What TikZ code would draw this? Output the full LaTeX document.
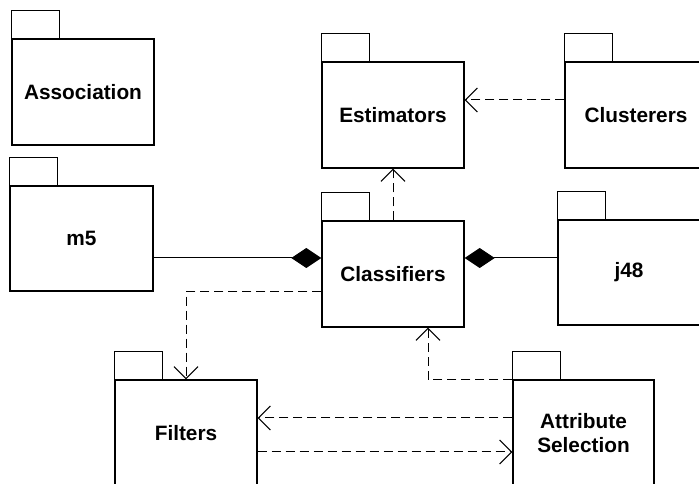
\documentclass[tikz,border=0pt]{standalone}
\usepackage{fontspec}
\setmainfont{Liberation Sans}
\usetikzlibrary{arrows.meta}
\tikzset{
  x=1pt,y=1pt,
  body/.style={draw,line width=1.4pt,minimum width=142pt,minimum height=106pt,inner sep=0pt,
    font=\fontsize{20.8}{24}\selectfont\bfseries,align=center},
  tab/.style={draw,line width=1.4pt},
  dep/.style={line width=1pt,dash pattern=on 9pt off 5pt,-{Straight Barb[length=12pt,width=24pt,line width=1pt]}},
  comp/.style={line width=1pt,-{Diamond[length=30pt,width=20pt]}}
}
\begin{document}
\begin{tikzpicture}
\useasboundingbox (0,0) rectangle (699,484);
\node[body] (asc) at (83,392) {Association};
\node[body,minimum width=143pt,minimum height=105pt] (m5) at (81.5,245.5) {m5};
\node[body] (est) at (393,369) {Estimators};
\node[body] (clu) at (636,369) {Clusterers};
\node[body] (cls) at (393,210) {Classifiers};
\node[body,minimum height=105pt] (j48) at (629,211.5) {j48};
\node[body] (flt) at (186,51) {Filters};
\node[body,minimum width=141pt] (ats) at (583.5,51) {Attribute\\Selection};
\foreach \n in {asc,m5,est,clu,cls,j48,flt,ats}
  \draw[tab] (\n.north west) rectangle ++(48,28);
% connectors
\coordinate (cluout) at ([yshift=15pt]clu.west);
\draw[dep] (cluout) -- (cluout -| est.east);
\draw[dep] (cls.north) -- (est.south);
\coordinate (cm5) at ([yshift=16pt]cls.west);
\draw[comp] (cm5 -| m5.east) -- (cm5);
\coordinate (cj48) at ([yshift=16pt]cls.east);
\draw[comp] (cj48 -| j48.west) -- (cj48);
\draw[dep] ([yshift=-18pt]cls.west) -| (flt.north);
\coordinate (clsin) at ([xshift=35pt]cls.south);
\draw[dep] (ats.north west) -| (clsin);
\coordinate (atsout) at ([yshift=15pt]ats.west);
\draw[dep] (atsout) -- (atsout -| flt.east);
\coordinate (fltout) at ([yshift=-19pt]flt.east);
\draw[dep] (fltout) -- (fltout -| ats.west);
\end{tikzpicture}
\end{document}
